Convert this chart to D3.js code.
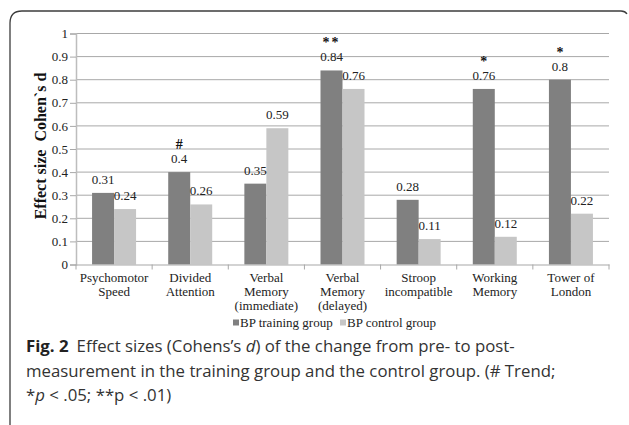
<!DOCTYPE html>
<html><head><meta charset="utf-8">
<script src="https://cdn.jsdelivr.net/npm/d3@7"></script>
<style>
body{margin:0;background:#fff;}
svg{display:block;}
</style></head>
<body>
<svg id="c" width="629" height="425"></svg>
<script>
const categories = [
  ["Psychomotor","Speed"],
  ["Divided","Attention"],
  ["Verbal","Memory","(immediate)"],
  ["Verbal","Memory","(delayed)"],
  ["Stroop","incompatible"],
  ["Working","Memory"],
  ["Tower of","London"]
];
const seriesNames = ["BP training group","BP control group"];
const training = [0.31, 0.40, 0.35, 0.84, 0.28, 0.76, 0.80];
const control  = [0.24, 0.26, 0.59, 0.76, 0.11, 0.12, 0.22];
const markers  = ["", "#", "", "**", "", "*", "*"];
const yTicks = [0,0.1,0.2,0.3,0.4,0.5,0.6,0.7,0.8,0.9,1];
const yTickLabels = ["0","0.1","0.2","0.3","0.4","0.5","0.6","0.7","0.8","0.9","1"];
const valueLabels = [
  ["0.31","0.4","0.35","0.84","0.28","0.76","0.8"],
  ["0.24","0.26","0.59","0.76","0.11","0.12","0.22"]
];
const colors = ["#808080","#c6c6c6"];

const svg = d3.select("#c");
const serif = "'Liberation Serif','Times New Roman',serif";

// border
svg.append("path")
  .attr("d","M10,430 L10,23 Q10,11 22,11 L621,11 Q625,11 627,14")
  .attr("fill","none").attr("stroke","#3c3c3c").attr("stroke-width",1.3);

const x0 = 76, x1 = 609, yTop = 33.5, yBot = 264.5;
const x = d3.scaleBand().domain(d3.range(categories.length)).range([x0,x1]).padding(0);
const bw = 22;
const xs = d3.scaleBand().domain([0,1]).range([0, bw*2]);
const off = (x.bandwidth() - bw*2)/2;
const y = d3.scaleLinear().domain([0,1]).range([yBot,yTop]);

// gridlines
svg.append("g").selectAll("line").data(yTicks.slice(1)).join("line")
  .attr("x1",x0).attr("x2",x1)
  .attr("y1",d=>y(d)).attr("y2",d=>y(d))
  .attr("stroke","#a8a8a8").attr("stroke-width",1);

// y axis
const yAxis = d3.axisLeft(y).tickValues(yTicks).tickFormat((d,i)=>yTickLabels[i]).tickSize(6).tickPadding(2);
const gy = svg.append("g").attr("transform",`translate(${x0},0)`).call(yAxis);
gy.select(".domain").attr("stroke","#bdbdbd").attr("stroke-width",1.5);
gy.selectAll(".tick line").attr("stroke","#a8a8a8");
gy.selectAll("text").attr("font-family",serif).attr("font-size",13).attr("fill","#222");

// bars
const data = categories.map((c,i)=>({i, vals:[training[i],control[i]]}));
const groups = svg.append("g").selectAll("g").data(data).join("g")
  .attr("transform",d=>`translate(${x(d.i)+off},0)`);
groups.selectAll("rect").data(d=>d.vals.map((v,s)=>({v,s}))).join("rect")
  .attr("x",d=>xs(d.s)).attr("width",xs.bandwidth())
  .attr("y",d=>y(d.v)).attr("height",d=>yBot-y(d.v))
  .attr("fill",d=>colors[d.s]);

// value labels
groups.selectAll("text.val").data(d=>d.vals.map((v,s)=>({v,s,i:d.i}))).join("text")
  .attr("class","val")
  .attr("x",d=>xs(d.s)+xs.bandwidth()/2)
  .attr("y",d=>y(d.v)-9)
  .attr("text-anchor","middle")
  .attr("font-family",serif).attr("font-size",13).attr("fill","#222")
  .text(d=>valueLabels[d.s][d.i]);

// markers
groups.filter(d=>markers[d.i]).append("text")
  .attr("x",xs(0)+xs.bandwidth()/2)
  .attr("y",d=>y(training[d.i])-9-14)
  .attr("text-anchor","middle")
  .attr("font-family",serif).attr("font-size",14).attr("font-weight","bold")
  .attr("letter-spacing",d=>markers[d.i]==="**"?2:0)
  .attr("fill","#111")
  .text(d=>markers[d.i]);

// x axis
const xAxis = d3.axisBottom(x).tickValues([]).tickSize(0);
const gx = svg.append("g").attr("transform",`translate(0,${yBot})`).call(xAxis);
gx.select(".domain").attr("stroke","#a8a8a8").attr("stroke-width",1.2);
const boundaries = d3.range(categories.length+1).map(i=> i<categories.length ? x(i) : x1);
gx.selectAll("line.b").data(boundaries).join("line").attr("class","b")
  .attr("x1",d=>d).attr("x2",d=>d).attr("y1",0).attr("y2",5)
  .attr("stroke","#a8a8a8");

// category labels
const lab = svg.append("g").selectAll("text").data(categories).join("text")
  .attr("x",(d,i)=>x(i)+x.bandwidth()/2)
  .attr("y",282)
  .attr("text-anchor","middle")
  .attr("font-family",serif).attr("font-size",13).attr("fill","#222");
lab.selectAll("tspan").data(d=>d).join("tspan")
  .attr("x",function(){return this.parentNode.getAttribute("x");})
  .attr("dy",(d,j)=>j===0?0:14)
  .text(d=>d);

// legend
const leg = svg.append("g").attr("transform","translate(233,327)");
const legX = [0, 107];
seriesNames.forEach((n,s)=>{
  leg.append("rect").attr("x",legX[s]).attr("y",-7.5).attr("width",6).attr("height",6).attr("fill",colors[s]);
  leg.append("text").attr("x",legX[s]+7).attr("y",0)
    .attr("font-family",serif).attr("font-size",13).attr("fill","#222").text(n);
});

// y title
svg.append("text")
  .attr("transform",`translate(46,146) rotate(-90)`)
  .attr("text-anchor","middle")
  .attr("font-family",serif).attr("font-size",16).attr("font-weight","bold").attr("fill","#111")
  .attr("xml:space","preserve")
  .style("white-space","pre")
  .text("Effect size  Cohen`s d");

// caption
const sans = "'Open Sans','Noto Sans',sans-serif";
const cap = svg.append("g").attr("font-family",sans).attr("font-size",16.8).attr("fill","#333");
const l1 = cap.append("text").attr("x",26).attr("y",352);
l1.append("tspan").attr("font-weight","bold").attr("fill","#222").text("Fig. 2");
l1.append("tspan").attr("dx",8).text("Effect sizes (Cohens’s ");
l1.append("tspan").attr("font-style","italic").text("d");
l1.append("tspan").text(") of the change from pre- to post-");
cap.append("text").attr("x",26).attr("y",377).text("measurement in the training group and the control group. (# Trend;");
const l3 = cap.append("text").attr("x",26).attr("y",401);
l3.append("tspan").text("*");
l3.append("tspan").attr("font-style","italic").text("p");
l3.append("tspan").text(" < .05; **p < .01)");
</script>
</body></html>
